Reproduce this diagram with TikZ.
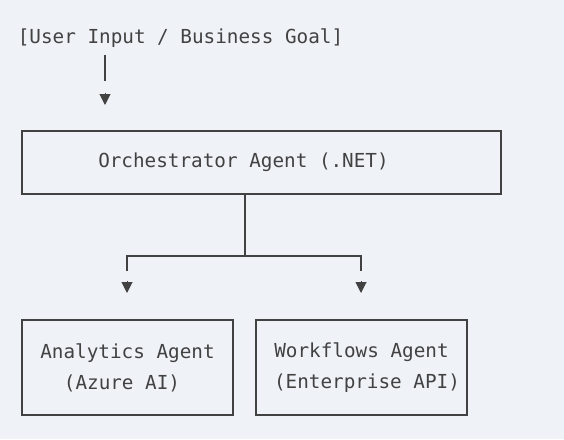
\documentclass[tikz,border=0pt]{standalone}
\usepackage{fontspec}
\usepackage{xcolor}
\usetikzlibrary{arrows.meta}
\setmonofont{DejaVu Sans Mono}
\tikzstyle{agentbox} = [rectangle,draw=ink,line width=1.3pt,inner sep=0pt,align=center,text=ink]
\tikzstyle{caption} = [inner sep=0pt,text=ink]
\tikzstyle{wire} = [draw=ink,line width=1.3pt,line join=miter]
\tikzstyle{wirehead} = [draw=ink,fill=ink,line width=1pt,-{Triangle[width=11pt,length=11pt]}]
\definecolor{paper}{RGB}{239,243,248}
\definecolor{ink}{RGB}{66,66,66}

\begin{document}
\begin{tikzpicture}[x=1pt,y=-1pt,font=\ttfamily\fontsize{19.3}{31}\selectfont]
    \fill [paper] (0,0) rectangle (564,439);
    \useasboundingbox (0,0) rectangle (564,439);

    \node (user) [caption] at (180.5,38.5) {[User Input / Business Goal]};

    \node (orch) [agentbox,minimum width=479pt,minimum height=63pt] at (261.5,162.5) {\raisebox{-2.5pt}{Orchestrator Agent (.NET)}\hspace*{36pt}};

    \node (analytics) [agentbox,minimum width=211pt,minimum height=95pt] at (127.5,367.5) {Analytics Agent\\(Azure AI)\hspace*{11pt}};
    \node (workflows) [agentbox,minimum width=211pt,minimum height=95pt] at (361.5,367.5) {Workflows Agent\\\hspace*{11pt}(Enterprise API)};

    % input into the orchestrator
    \coordinate (u1) at (105,55);
    \coordinate (u2) at (105,81);
    \coordinate (uh) at (105,105);
    \draw [wire] (u1) -- (u2);
    \draw [wirehead] ([yshift=12pt]uh) -- (uh);

    % split to the two agents
    \coordinate (split) at (245,256);
    \coordinate (la) at (127,271);
    \coordinate (ra) at (361,271);
    \coordinate (lh) at (127,293);
    \coordinate (rh) at (361,293);
    \draw [wire] (orch.south -| split) -- (split);
    \draw [wire] (la) |- (split) -| (ra);
    \draw [wirehead] ([yshift=12pt]lh) -- (lh);
    \draw [wirehead] ([yshift=12pt]rh) -- (rh);

\end{tikzpicture}
\end{document}
